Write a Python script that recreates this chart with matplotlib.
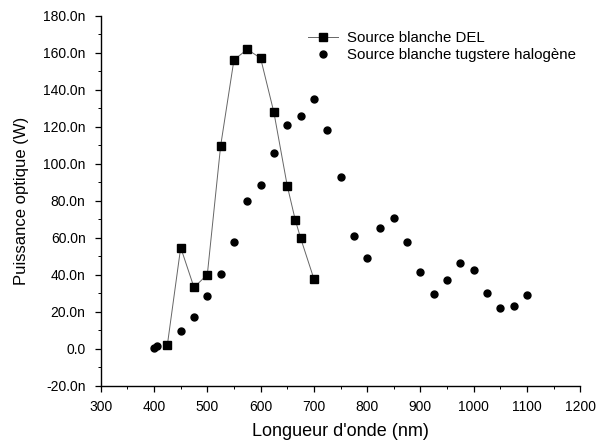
import matplotlib
matplotlib.use("Agg")
import matplotlib.pyplot as plt
from matplotlib.ticker import MultipleLocator, FuncFormatter

plt.rcParams['font.family'] = ['Liberation Sans', 'DejaVu Sans']

# LED white source (squares, connected)
del_x = [425, 450, 475, 500, 525, 550, 575, 600, 625, 650, 665, 675, 700]
del_y = [2.2, 54.8, 33.2, 40.2, 109.8, 156.3, 161.9, 157.2, 127.8, 88.2, 69.8, 60.0, 37.9]

# Tungsten halogen white source (circles)
hal_x = [400, 405, 450, 475, 500, 525, 550, 575, 600, 625, 650, 675, 700, 725, 750,
         775, 800, 825, 850, 875, 900, 925, 950, 975, 1000, 1025, 1050, 1075, 1100]
hal_y = [0.4, 1.3, 9.9, 17.4, 28.6, 40.6, 57.8, 80.0, 88.7, 105.8, 121.3, 126.1, 135.3, 118.6, 92.9,
         60.9, 49.2, 65.4, 70.6, 57.8, 41.8, 29.8, 37.5, 46.4, 42.7, 30.0, 22.1, 23.0, 29.2]

x_ticks = [300, 400, 500, 600, 700, 800, 900, 1000, 1100, 1200]
y_ticks = [-20, 0, 20, 40, 60, 80, 100, 120, 140, 160, 180]

fig = plt.figure(figsize=(6.0, 4.43), dpi=100)
ax = fig.add_axes([0.168, 0.129, 0.799, 0.835])

ax.plot(del_x, del_y, color='#666666', lw=0.7, marker='s', ms=5.5,
        mfc='black', mec='black', label='Source blanche DEL')
ax.plot(hal_x, hal_y, ls='none', marker='o', ms=5,
        mfc='black', mec='black', label='Source blanche tugstere halogène')

ax.set_xlim(300, 1200)
ax.set_ylim(-20, 180)
ax.set_xticks(x_ticks)
ax.set_yticks(y_ticks)
ax.xaxis.set_minor_locator(MultipleLocator(50))
ax.yaxis.set_minor_locator(MultipleLocator(10))

def yfmt(v, pos):
    if abs(v) < 1e-9:
        return '0.0'
    return f'{v:.1f}n'
ax.yaxis.set_major_formatter(FuncFormatter(yfmt))

for s in ['top', 'right']:
    ax.spines[s].set_visible(False)
for s in ['left', 'bottom']:
    ax.spines[s].set_linewidth(1.0)

ax.tick_params(axis='both', which='major', direction='out', length=4, width=0.9,
               labelsize=10)
ax.tick_params(axis='y', which='major', pad=7)
ax.tick_params(axis='x', which='major', pad=6)
ax.tick_params(axis='both', which='minor', direction='out', length=2, width=0.7)

ax.set_xlabel("Longueur d'onde (nm)", fontsize=13, labelpad=7)
ax.set_ylabel("Puissance optique (W)", fontsize=12, labelpad=10)

ax.legend(loc='upper left', bbox_to_anchor=(0.405, 0.995), frameon=False,
          fontsize=10.8, handlelength=2.0, handletextpad=0.6, labelspacing=0.2)

fig.savefig('out.png', dpi=100)
